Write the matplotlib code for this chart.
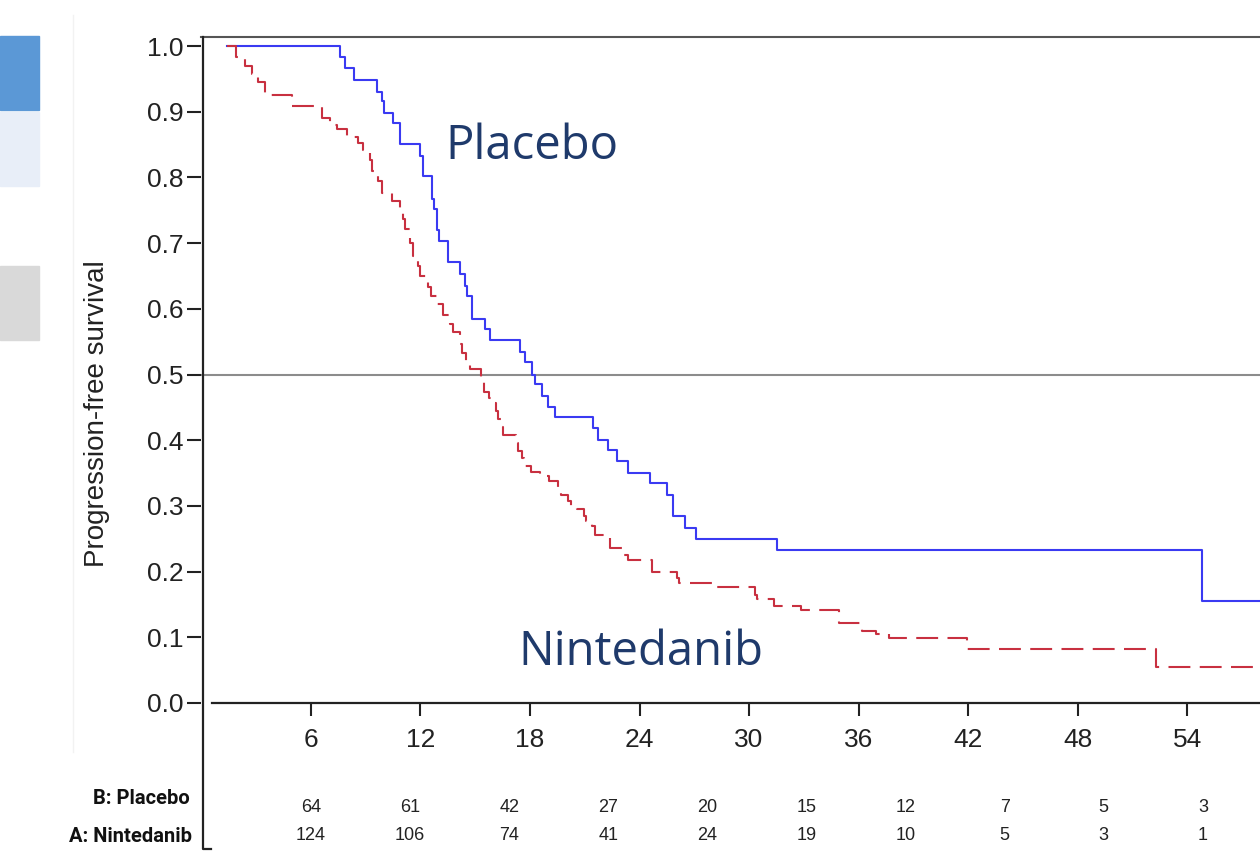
"""Kaplan-Meier curves for progression-free survival, Nintedanib vs Placebo."""

import matplotlib

matplotlib.use("Agg")

import matplotlib.pyplot as plt  # noqa: E402
from matplotlib.lines import Line2D  # noqa: E402
from matplotlib.patches import Rectangle  # noqa: E402

MONTH_TICKS = [6, 12, 18, 24, 30, 36, 42, 48, 54]
SURV_TICKS = [0.0, 0.1, 0.2, 0.3, 0.4, 0.5, 0.6, 0.7, 0.8, 0.9, 1.0]

PLACEBO_AT_RISK = [64, 61, 42, 27, 20, 15, 12, 7, 5, 3]
NINTEDANIB_AT_RISK = [124, 106, 74, 41, 24, 19, 10, 5, 3, 1]

# step times (months) and the survival value after each step
PLACEBO_TIME = [1.40, 7.59, 7.86, 8.35, 9.61, 9.88, 10.0, 10.48, 10.87, 11.97,
                12.12, 12.62, 12.73, 12.9, 13.0, 13.5, 14.15, 14.43, 14.54,
                14.81, 15.52, 15.79, 17.43, 17.71, 18.09, 18.26, 18.64, 18.97,
                19.35, 21.43, 21.70, 22.26, 22.75, 23.35, 24.55, 25.48, 25.81,
                26.47, 27.12, 31.51, 54.82]
PLACEBO_SURV = [1.0, 0.983, 0.967, 0.948, 0.93, 0.916, 0.898, 0.883, 0.851,
                0.832, 0.802, 0.767, 0.752, 0.72, 0.703, 0.671, 0.653, 0.635,
                0.62, 0.585, 0.57, 0.552, 0.535, 0.519, 0.50, 0.486, 0.468,
                0.451, 0.435, 0.418, 0.40, 0.385, 0.368, 0.35, 0.335, 0.317,
                0.285, 0.267, 0.25, 0.233, 0.155]

NINTEDANIB_TIME = [1.40, 1.89, 2.39, 2.76, 3.10, 3.48, 4.96, 6.60, 7.04, 7.42,
                   7.97, 8.57, 8.84, 9.23, 9.34, 9.67, 9.89, 10.43, 10.87,
                   11.03, 11.14, 11.42, 11.58, 11.85, 11.96, 12.40, 12.56,
                   12.89, 13.22, 13.61, 13.77, 14.15, 14.26, 14.48, 14.70,
                   15.30, 15.47, 15.74, 15.85, 16.12, 16.23, 16.45, 16.50,
                   17.22, 17.33, 17.55, 17.66, 18.04, 18.53, 19.02, 19.52,
                   19.68, 20.07, 20.23, 20.56, 20.94, 21.05, 21.38, 21.54,
                   22.36, 23.08, 23.35, 24.66, 26.03, 26.19, 28.16, 30.30,
                   30.46, 31.39, 32.82, 34.95, 36.21, 36.98, 37.69, 41.96,
                   52.30]
NINTEDANIB_SURV = [1.0, 0.983, 0.97, 0.958, 0.945, 0.926, 0.908, 0.89, 0.88,
                   0.873, 0.861, 0.853, 0.842, 0.826, 0.81, 0.795, 0.777,
                   0.764, 0.752, 0.736, 0.721, 0.70, 0.68, 0.665, 0.65, 0.633,
                   0.62, 0.607, 0.59, 0.577, 0.565, 0.547, 0.532, 0.52, 0.509,
                   0.49, 0.474, 0.464, 0.456, 0.444, 0.433, 0.42, 0.408, 0.395,
                   0.383, 0.373, 0.36, 0.352, 0.345, 0.338, 0.327, 0.317,
                   0.308, 0.30, 0.295, 0.285, 0.277, 0.27, 0.256, 0.236, 0.226,
                   0.217, 0.20, 0.19, 0.183, 0.176, 0.165, 0.158, 0.148, 0.141,
                   0.122, 0.11, 0.105, 0.099, 0.082, 0.055]

X_END = 58.1

W, H = 1260, 852
PLACEBO_COLOR = "#3a3af2"
NINTEDANIB_COLOR = "#c83040"
LABEL_COLOR = "#1f3a6b"

# the at-risk table was pasted under the plot; its columns sit on their own
# spacing, not on the month ticks
RISK_X0, RISK_DX = 311, 99.1


def fx(px):
    return px / W


def fy(py):
    return 1 - py / H


fig = plt.figure(figsize=(W / 100, H / 100), dpi=100)
plt.rcParams["font.family"] = ["Liberation Sans", "DejaVu Sans"]

# slide decorations on the left
for top, bottom, color in [(36, 110, "#5b98d6"), (112, 186, "#e8eef8"), (266, 340, "#d9d9d9")]:
    fig.patches.append(Rectangle((0, fy(bottom)), fx(39), fy(top) - fy(bottom),
                                 transform=fig.transFigure, color=color, zorder=0))
fig.add_artist(Line2D([fx(73), fx(73)], [fy(15), fy(752)], color="#f2f2f2", lw=1))

ax = fig.add_axes([fx(201.4), fy(703), fx(1262 - 201.4), fy(37) - fy(703)])
ax.set_xlim(0, X_END)
ax.set_ylim(0, 1.0137)

ax.step(PLACEBO_TIME + [X_END], PLACEBO_SURV + [PLACEBO_SURV[-1]], where="post",
        color=PLACEBO_COLOR, lw=1.5, zorder=3)
ax.step(NINTEDANIB_TIME + [X_END], NINTEDANIB_SURV + [NINTEDANIB_SURV[-1]], where="post",
        color=NINTEDANIB_COLOR, lw=1.5, linestyle=(0, (10.5, 4.5)), zorder=3)
ax.axhline(0.5, color="#8c8c8c", lw=1.5, zorder=2)

ax.spines["right"].set_visible(False)
ax.spines["left"].set_visible(False)
ax.spines["top"].set_color("#555555")
ax.spines["top"].set_linewidth(1.5)
ax.spines["bottom"].set_color("#222222")
ax.spines["bottom"].set_linewidth(1.6)
ax.spines["bottom"].set_bounds(0.58, X_END)

ax.set_xticks(MONTH_TICKS)
ax.set_yticks(SURV_TICKS)
ax.set_yticklabels([f"{v:.1f}" for v in SURV_TICKS])
ax.tick_params(axis="x", length=9, width=1.5, pad=9, labelsize=19, colors="#222222")
ax.tick_params(axis="y", length=10, width=1.5, pad=3, labelsize=19, colors="#222222")

# left axis line continues down past the number-at-risk table
fig.add_artist(Line2D([fx(203), fx(203), fx(211)], [fy(37), fy(849), fy(849)],
                      color="#222222", lw=1.6))

fig.text(fx(97), fy(414), "Progression-free survival", rotation=90, ha="center",
         va="center", fontsize=20, color="#222222")

ax.text(18.1, 0.848, "Placebo", fontsize=34, color=LABEL_COLOR, ha="center",
        va="center", family=["Open Sans", "DejaVu Sans"])
ax.text(24.1, 0.078, "Nintedanib", fontsize=34, color=LABEL_COLOR, ha="center",
        va="center", family=["Open Sans", "DejaVu Sans"])

# number at risk
fig.text(fx(190), fy(799), "B: Placebo", ha="right", va="center", fontsize=14.5,
         fontweight="bold", family=["Roboto", "DejaVu Sans"], color="#111111")
fig.text(fx(192), fy(836), "A: Nintedanib", ha="right", va="center", fontsize=14.5,
         fontweight="bold", family=["Roboto", "DejaVu Sans"], color="#111111")
for i, (p, n) in enumerate(zip(PLACEBO_AT_RISK, NINTEDANIB_AT_RISK)):
    x = fx(RISK_X0 + i * RISK_DX)
    fig.text(x, fy(807), str(p), ha="center", va="center", fontsize=13, color="#222222")
    fig.text(x, fy(836), str(n), ha="center", va="center", fontsize=13, color="#222222")

fig.savefig("out.png", dpi=100)
